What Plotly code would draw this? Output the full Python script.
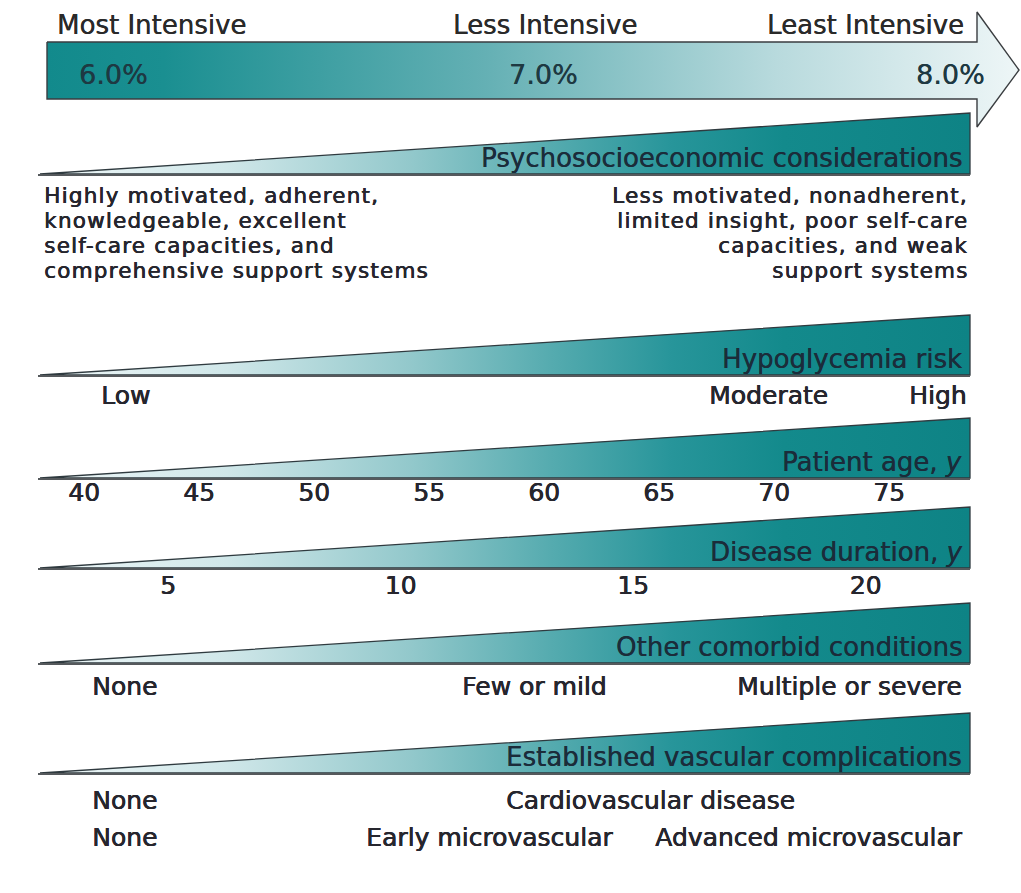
import plotly.graph_objects as go

# ---------------- data ----------------
INTENSITY_LABELS = ["Most Intensive", "Less Intensive", "Least Intensive"]
HBA1C_TARGETS = ["6.0%", "7.0%", "8.0%"]
FACTORS = [
    "Psychosocioeconomic considerations",
    "Hypoglycemia risk",
    "Patient age, <i>y</i>",
    "Disease duration, <i>y</i>",
    "Other comorbid conditions",
    "Established vascular complications",
]
PSYCHO_LOW = [
    "Highly motivated, adherent,",
    "knowledgeable, excellent",
    "self-care capacities, and",
    "comprehensive support systems",
]
PSYCHO_HIGH = [
    "Less motivated, nonadherent,",
    "limited insight, poor self-care",
    "capacities, and weak",
    "support systems",
]
HYPO_LABELS = ["Low", "Moderate", "High"]
AGE_TICKS = [40, 45, 50, 55, 60, 65, 70, 75]
DURATION_TICKS = [5, 10, 15, 20]
COMORBID_LABELS = ["None", "Few or mild", "Multiple or severe"]
CVD_LABELS = ["None", "Cardiovascular disease"]
MICRO_LABELS = ["None", "Early microvascular", "Advanced microvascular"]

# ---------------- layout / style ----------------
W, H = 1021, 893
FONT = "DejaVu Sans"
TXT = "#26262e"
LBL = "#1b2c3a"
HDR = "#2a2a2a"
PCT = "#1e3942"
TEAL_DARK = "#0e8385"
BODY_SIZE = 25
SEMI = "0.6px 0 0 {c}, 0.3px 0 0 {c}"   # faux semi-bold stroke
MED = "0.35px 0 0 {c}"

ARROW_SCALE = [[0, "#128a8c"], [0.12, "#1a8f91"], [0.45, "#64b0b4"],
               [0.75, "#b8dadd"], [1, "#eef6f7"]]
WEDGE_SCALE = [[0, "#eff7f8"], [0.2, "#d0e7e9"], [0.4, "#92c8cb"],
               [0.55, "#55abaf"], [0.68, "#27959a"], [0.8, "#138a8c"], [1, TEAL_DARK]]

WL, WR = 40, 970
WEDGE_TOP = [113, 315, 418, 507, 603, 713]
WEDGE_BOT = [174, 375, 478, 568, 663, 773]

fig = go.Figure()

# big arrow
AL, AR, AT, AB, HT, HB, TIPX, TIPY = 47, 977, 42, 99, 12, 127, 1019, 70
fig.add_trace(go.Scatter(
    x=[AL, AR, AR, TIPX, AR, AR, AL, AL],
    y=[AT, AT, HT, TIPY, HB, AB, AB, AT],
    fill="toself", mode="lines",
    fillgradient=dict(type="horizontal", colorscale=ARROW_SCALE, start=AL, stop=TIPX),
    line=dict(color="#3a3d40", width=1.4),
    hoverinfo="skip", showlegend=False))

# wedges
for top, bot in zip(WEDGE_TOP, WEDGE_BOT):
    fig.add_trace(go.Scatter(
        x=[WL, WR, WR, WL], y=[bot, top, bot, bot],
        fill="toself", mode="lines",
        fillgradient=dict(type="horizontal", colorscale=WEDGE_SCALE, start=WL, stop=WR),
        line=dict(color="#2f3a3f", width=1.3),
        hoverinfo="skip", showlegend=False))
    fig.add_trace(go.Scatter(
        x=[WL - 2, WR], y=[bot + 1, bot + 1], mode="lines",
        line=dict(color="#55595c", width=2.2),
        hoverinfo="skip", showlegend=False))

ann = []


def txt(text, x, y, anchor="left", size=BODY_SIZE, color=TXT, shadow=SEMI):
    ann.append(dict(text=text, x=x, y=y, xref="x", yref="y", xanchor=anchor,
                    yanchor="middle", showarrow=False, align=anchor,
                    font=dict(family=FONT, size=size, color=color,
                              shadow=shadow.format(c=color))))


# header
txt(INTENSITY_LABELS[0], 55, 25, "left", 26, HDR, MED)
txt(INTENSITY_LABELS[1], 545, 25, "center", 26, HDR, MED)
txt(INTENSITY_LABELS[2], 966, 25, "right", 26, HDR, MED)
txt(HBA1C_TARGETS[0], 77, 74, "left", 27, PCT, MED)
txt(HBA1C_TARGETS[1], 543, 74, "center", 27, PCT, MED)
txt(HBA1C_TARGETS[2], 987, 74, "right", 27, PCT, MED)

# factor labels inside wedges
for name, bot in zip(FACTORS, WEDGE_BOT):
    txt(name, 964, bot - 16, "right", 26, LBL, MED)

# psychosocioeconomic text blocks (one annotation per line, tight pitch)
BLOCK_SIZE, BLOCK_PITCH, BLOCK_Y0 = 21.5, 25, 195


def spaced(s):
    return f"<span style='letter-spacing:1.2px'>{s}</span>"


for i, (lo, hi) in enumerate(zip(PSYCHO_LOW, PSYCHO_HIGH)):
    y = BLOCK_Y0 + i * BLOCK_PITCH
    txt(spaced(lo), 42, y, "left", BLOCK_SIZE)
    txt(spaced(hi), 970, y, "right", BLOCK_SIZE)

# hypoglycemia
txt(HYPO_LABELS[0], 125, 395, "center")
txt(HYPO_LABELS[1], 768, 395, "center")
txt(HYPO_LABELS[2], 968, 395, "right")

# comorbid
txt(COMORBID_LABELS[0], 90, 686, "left")
txt(COMORBID_LABELS[1], 534, 686, "center")
txt(COMORBID_LABELS[2], 963, 686, "right")

# vascular
txt(CVD_LABELS[0], 90, 800, "left")
txt(CVD_LABELS[1], 650, 800, "center")
txt(MICRO_LABELS[0], 90, 837, "left")
txt(MICRO_LABELS[1], 615, 837, "right")
txt(MICRO_LABELS[2], 964, 837, "right")

# age scale (own x axis) and duration scale (own x axis)
AGE_PX0, AGE_PPU = 84, 23.0
DUR_PX0, DUR_PPU = 168, 46.5
tick_font = dict(family=FONT, size=BODY_SIZE, color=TXT, shadow=SEMI.format(c=TXT))
fig.add_trace(go.Scatter(
    x=AGE_TICKS, y=[495] * len(AGE_TICKS), xaxis="x2", yaxis="y",
    mode="text", text=[str(a) for a in AGE_TICKS], textfont=tick_font,
    hoverinfo="skip", showlegend=False))
fig.add_trace(go.Scatter(
    x=DURATION_TICKS, y=[588] * len(DURATION_TICKS), xaxis="x3", yaxis="y",
    mode="text", text=[str(d) for d in DURATION_TICKS], textfont=tick_font,
    hoverinfo="skip", showlegend=False))

age_range = [AGE_TICKS[0] - AGE_PX0 / AGE_PPU, AGE_TICKS[0] + (W - AGE_PX0) / AGE_PPU]
dur_range = [DURATION_TICKS[0] - DUR_PX0 / DUR_PPU,
             DURATION_TICKS[0] + (W - DUR_PX0) / DUR_PPU]

fig.update_layout(
    width=W, height=H,
    margin=dict(l=0, r=0, t=0, b=0),
    paper_bgcolor="white", plot_bgcolor="white",
    xaxis=dict(range=[0, W], visible=False, fixedrange=True),
    xaxis2=dict(range=age_range, overlaying="x", visible=False),
    xaxis3=dict(range=dur_range, overlaying="x", visible=False),
    yaxis=dict(range=[H, 0], visible=False, fixedrange=True),
    annotations=ann,
    showlegend=False,
)

fig.write_html("out.html", config={"displayModeBar": False},
               post_script="document.body.style.margin='0';document.body.style.overflow='hidden';")
